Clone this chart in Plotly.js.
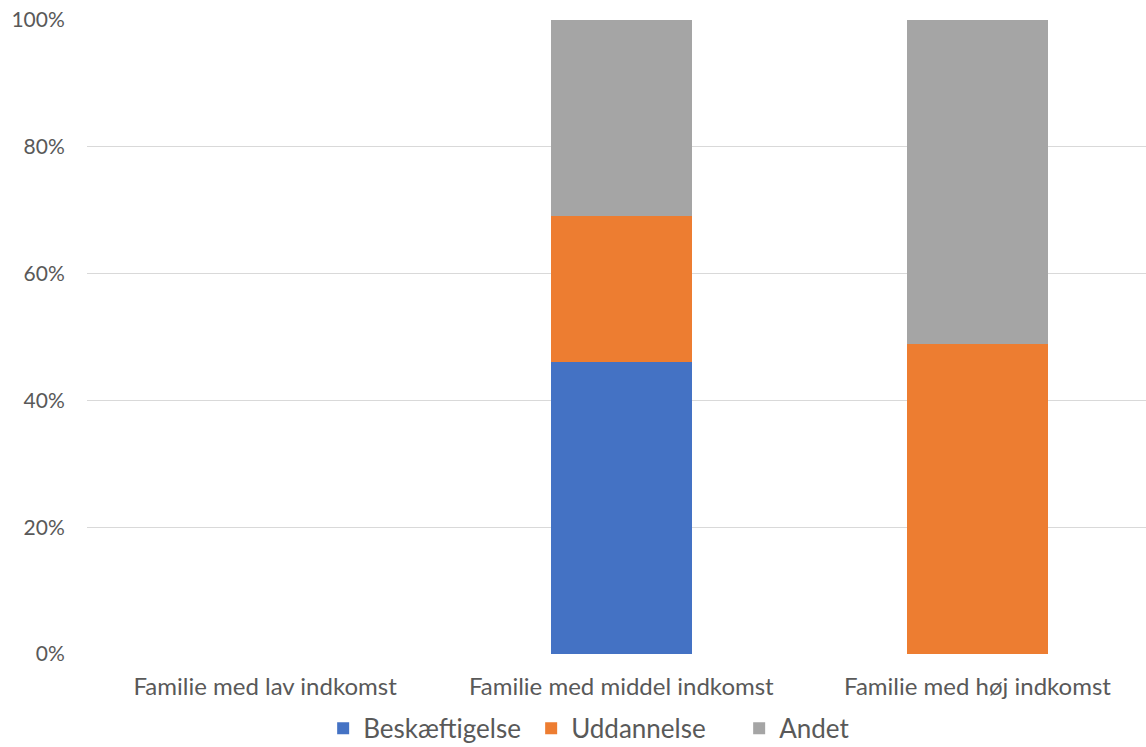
<!DOCTYPE html>
<html>
<head>
<meta charset="utf-8">
<script src="https://cdn.plot.ly/plotly-3.0.1.min.js"></script>
<style>html,body{margin:0;padding:0;background:#fff;}#chart{width:1146px;height:747px;}</style>
</head>
<body>
<div id="chart"></div>
<script>
const categories = ["Familie med lav indkomst", "Familie med middel indkomst", "Familie med høj indkomst"];
const beskaeftigelse = [0, 46.1, 0];
const uddannelse = [0, 23.0, 48.9];
const andet = [0, 30.9, 51.1];
const yTickVals = [0, 20, 40, 60, 80, 100];
const yTickText = ["0%", "20%", "40%", "60%", "80%", "100%"];

const fontFam = "Lato, 'Open Sans', sans-serif";
const traces = [
  {name: "Beskæftigelse", y: beskaeftigelse, color: "#4472C4"},
  {name: "Uddannelse", y: uddannelse, color: "#ED7D31"},
  {name: "Andet", y: andet, color: "#A5A5A5"}
].map(s => ({
  type: "bar", name: s.name, x: categories, y: s.y,
  marker: {color: s.color}, hoverinfo: "x+y+name"
}));

const layout = {
  width: 1146, height: 747,
  paper_bgcolor: "#fff", plot_bgcolor: "#fff",
  barmode: "stack", bargap: 0.604,
  margin: {l: 87, r: 0, t: 20, b: 93},
  font: {family: fontFam, color: "#595959"},
  showlegend: true,
  legend: {orientation: "h", xref: "paper", x: 0.223, xanchor: "left",
           yref: "container", y: 0.025, yanchor: "middle",
           entrywidth: 163, entrywidthmode: "pixels",
           font: {size: 26, color: "#595959", family: fontFam}, traceorder: "normal"},
  xaxis: {type: "category", range: [-0.5, 2.473], showgrid: false, zeroline: false,
          showline: false, ticks: "outside", ticklen: 11, tickcolor: "rgba(0,0,0,0)",
          tickfont: {size: 24, color: "#595959", family: fontFam}, fixedrange: true},
  yaxis: {range: [0, 100], tickvals: yTickVals, ticktext: yTickText,
          showgrid: true, gridcolor: "#D9D9D9", gridwidth: 1, zeroline: false,
          showline: false, ticks: "outside", ticklen: 17, tickcolor: "rgba(0,0,0,0)",
          tickfont: {size: 21, color: "#595959", family: fontFam}, fixedrange: true}
};
Plotly.newPlot("chart", traces, layout, {displayModeBar: false, staticPlot: true});
</script>
</body>
</html>
